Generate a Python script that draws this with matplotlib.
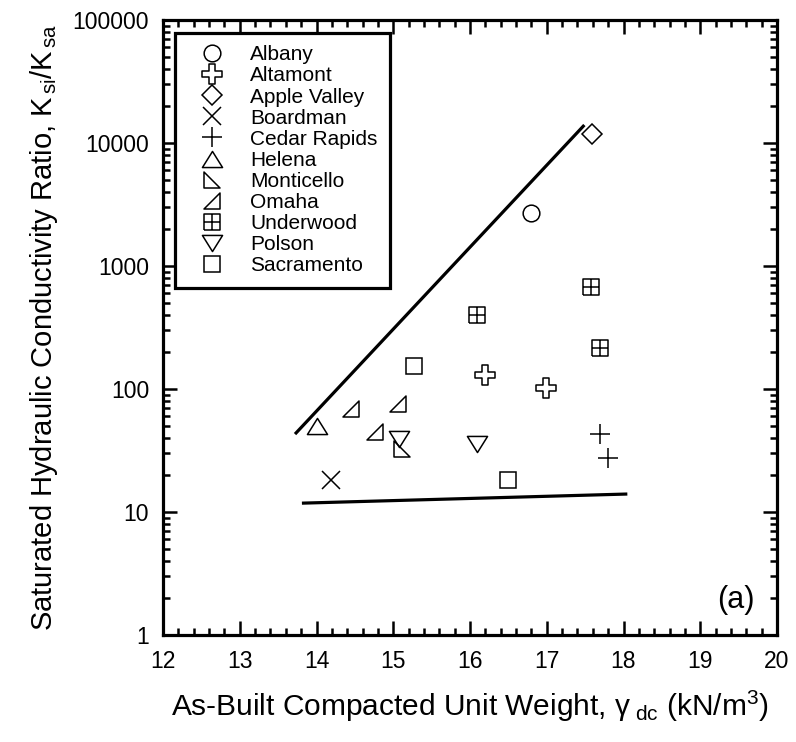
import matplotlib
matplotlib.use("Agg")
import matplotlib.pyplot as plt
from matplotlib.path import Path
from matplotlib.ticker import LogLocator, NullFormatter, MultipleLocator, FixedLocator, FixedFormatter
import numpy as np

plt.rcParams['font.family'] = ['Liberation Sans', 'DejaVu Sans']
plt.rcParams['mathtext.fontset'] = 'custom'
plt.rcParams['mathtext.rm'] = 'Liberation Sans'
plt.rcParams['mathtext.it'] = 'Liberation Sans:italic'
plt.rcParams['mathtext.bf'] = 'Liberation Sans:bold'

# ---- data: as-built unit weight (kN/m^3) vs K_si/K_sa ----
sites = ["Albany", "Altamont", "Apple Valley", "Boardman", "Cedar Rapids",
         "Helena", "Monticello", "Omaha", "Underwood", "Polson", "Sacramento"]

albany_x = [16.79]
albany_y = [2700]
altamont_x = [16.20, 16.99]
altamont_y = [130, 102]
apple_valley_x = [17.59]
apple_valley_y = [11800]
boardman_x = [14.19]
boardman_y = [18.2]
cedar_rapids_x = [17.69, 17.80]
cedar_rapids_y = [43, 27.5]
helena_x = [14.0]
helena_y = [50]
monticello_x = [15.11]
monticello_y = [32.5]
omaha_x = [14.45, 15.06, 14.76]
omaha_y = [69, 75.5, 44.7]
underwood_x = [16.09, 17.58, 17.69]
underwood_y = [400, 676, 215]
polson_x = [15.08, 16.09]
polson_y = [39, 35.8]
sacramento_x = [15.27, 16.50]
sacramento_y = [154, 18.2]

# bounding lines
upper_x = [13.72, 17.49]
upper_y = [43, 14000]
lower_x = [13.81, 18.05]
lower_y = [11.8, 14.0]

x_ticks = [12, 13, 14, 15, 16, 17, 18, 19, 20]
y_ticks = [1, 10, 100, 1000, 10000, 100000]
y_tick_labels = ["1", "10", "100", "1000", "10000", "100000"]

# ---- custom marker shapes ----
cross_outline = Path([(-0.33, 1), (0.33, 1), (0.33, 0.33), (1, 0.33), (1, -0.33),
                      (0.33, -0.33), (0.33, -1), (-0.33, -1), (-0.33, -0.33),
                      (-1, -0.33), (-1, 0.33), (-0.33, 0.33), (-0.33, 1)],
                     closed=True)
tri_up = Path([(0, 0.8), (-1, -0.8), (1, -0.8), (0, 0.8)], closed=True)
tri_down = Path([(0, -0.8), (-1, 0.8), (1, 0.8), (0, -0.8)], closed=True)
tri_left_right = Path([(-1, 1), (-1, -1), (1, -1), (-1, 1)], closed=True)
tri_right_right = Path([(1, 1), (1, -1), (-1, -1), (1, 1)], closed=True)
M, L = Path.MOVETO, Path.LINETO
grid_square = Path([(-1, -1), (1, -1), (1, 1), (-1, 1), (-1, -1),
                    (0, -1), (0, 1), (-1, 0), (1, 0)],
                   [M, L, L, L, L, M, L, M, L])

series = [
    (albany_x, albany_y, 'o', 12),
    (altamont_x, altamont_y, cross_outline, 15),
    (apple_valley_x, apple_valley_y, 'D', 10),
    (boardman_x, boardman_y, 'x', 12.7),
    (cedar_rapids_x, cedar_rapids_y, '+', 15),
    (helena_x, helena_y, tri_up, 14.5),
    (monticello_x, monticello_y, tri_left_right, 11.5),
    (omaha_x, omaha_y, tri_right_right, 11.5),
    (underwood_x, underwood_y, grid_square, 12),
    (polson_x, polson_y, tri_down, 14.5),
    (sacramento_x, sacramento_y, 's', 12),
]

fig = plt.figure(figsize=(7.96, 7.42), dpi=100)
ax = fig.add_axes([163 / 796, 107 / 742, 614 / 796, 615 / 742])

ax.plot(upper_x, upper_y, color='black', lw=2.3, solid_capstyle='butt')
ax.plot(lower_x, lower_y, color='black', lw=2.3, solid_capstyle='butt')

for name, (xs, ys, mk, ms) in zip(sites, series):
    ax.plot(xs, ys, linestyle='none', marker=mk, markersize=ms,
            markerfacecolor='none', markeredgecolor='black',
            markeredgewidth=1.1, label=name)

ax.set_yscale('log')
ax.set_xlim(12, 20)
ax.set_ylim(1, 100000)

ax.xaxis.set_major_locator(FixedLocator(x_ticks))
ax.xaxis.set_minor_locator(MultipleLocator(0.2))
ax.yaxis.set_major_locator(FixedLocator(y_ticks))
ax.yaxis.set_major_formatter(FixedFormatter(y_tick_labels))
ax.yaxis.set_minor_locator(LogLocator(base=10, subs=np.arange(2, 10), numticks=20))
ax.yaxis.set_minor_formatter(NullFormatter())

ax.tick_params(which='both', direction='in', top=True, right=True,
               width=1.8, labelsize=16.5, colors='black')
ax.tick_params(which='major', length=10)
ax.tick_params(axis='x', which='major', pad=11)
ax.tick_params(axis='y', which='major', pad=10)
ax.tick_params(which='minor', length=5)
for sp in ax.spines.values():
    sp.set_linewidth(2.3)

ax.set_xlabel(r'As-Built Compacted Unit Weight, $\mathregular{\gamma}_{\mathregular{\ dc}}$ (kN/m$^{\mathregular{3}}$)',
              fontsize=21.5, labelpad=11)
ax.set_ylabel(r'Saturated Hydraulic Conductivity Ratio, K$_{\mathregular{\,si}}$/K$_{\mathregular{\,sa}}$',
              fontsize=21, labelpad=9)

ax.text(19.71, 1.93, '(a)', fontsize=22, ha='right', va='center')

leg = ax.legend(loc='upper left', bbox_to_anchor=(0.0195, 0.979), fontsize=15,
                frameon=True, fancybox=False, edgecolor='black', framealpha=1,
                handlelength=2.4, handletextpad=0.6, labelspacing=0.1,
                borderpad=0.6, borderaxespad=0)
leg.get_frame().set_linewidth(2.3)

fig.savefig('out.png', dpi=100)
